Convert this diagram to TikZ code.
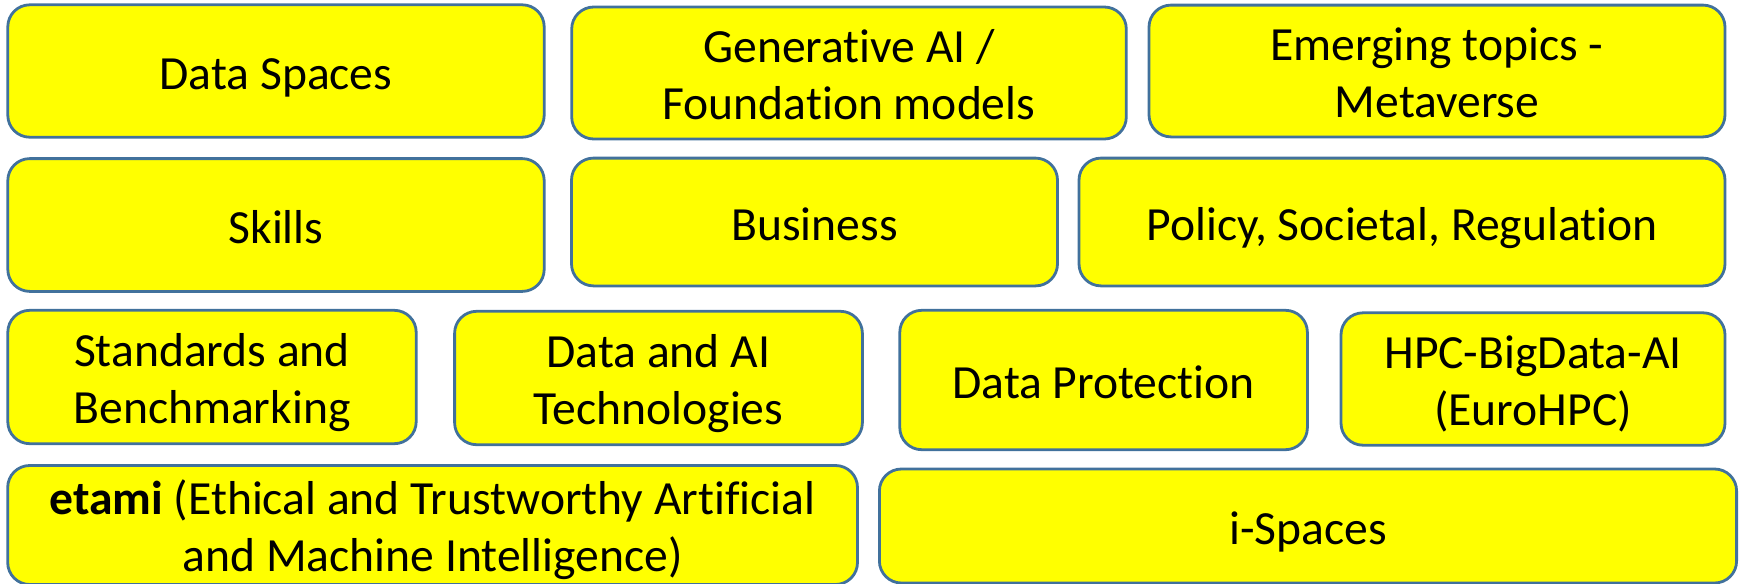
\documentclass[tikz,border=0pt]{standalone}
\usepackage{fontspec}
\setmainfont{Carlito}[Ligatures=NoCommon]
\definecolor{boxline}{HTML}{41719C}
\definecolor{boxfill}{HTML}{FFFF00}

\begin{document}
\begin{tikzpicture}[x=0.5pt,y=-0.5pt]
                        \tikzstyle{topic}=[draw=boxline, fill=boxfill, line width=1.4pt, rounded corners=11pt, align=center, inner sep=0pt, font=\fontsize{23.8}{28.6}\selectfont, text height=24.5pt, text depth=6.4pt]
                        \tikzstyle{twolines}=[text height=53.1pt]
                        \useasboundingbox (0,0) rectangle (1752,584);
                        \node[topic, minimum width=268.2pt, minimum height=66.2pt] (dataspaces) at (276,71) {Data Spaces};
                        \node[topic, twolines, minimum width=277.3pt, minimum height=66pt] (genai) at (849,73) {Generative AI /\\Foundation models};
                        \node[topic, twolines, minimum width=288pt, minimum height=65.9pt] (emerging) at (1437,71) {Emerging topics -\\Metaverse};
                        \node[topic, minimum width=268.2pt, minimum height=66.4pt] (skills) at (276,225) {Skills};
                        \node[topic, minimum width=243pt, minimum height=63.9pt] (business) at (814.5,222) {Business};
                        \node[topic, minimum width=323pt, minimum height=63.9pt] (policy) at (1402,222) {Policy, Societal, Regulation};
                        \node[topic, twolines, minimum width=204.2pt, minimum height=66.7pt] (standards) at (212,377) {Standards and\\Benchmarking};
                        \node[topic, twolines, minimum width=203.9pt, minimum height=66.7pt] (dataai) at (658.5,378) {Data and AI\\Technologies};
                        \node[topic, minimum width=203.8pt, minimum height=69.7pt] (dataprot) at (1103.6,380) {Data Protection};
                        \node[topic, twolines, minimum width=192pt, minimum height=66.2pt] (hpc) at (1533,379) {HPC-BigData-AI\\(EuroHPC)};
                        \node[topic, twolines, minimum width=424.9pt, minimum height=58.2pt] (etami) at (432.6,525) {\textbf{etami} (Ethical and Trustworthy Artificial\\and Machine Intelligence)};
                        \node[topic, minimum width=428.6pt, minimum height=57pt] (ispaces) at (1308,526) {i-Spaces};
                    \end{tikzpicture}
\end{document}
